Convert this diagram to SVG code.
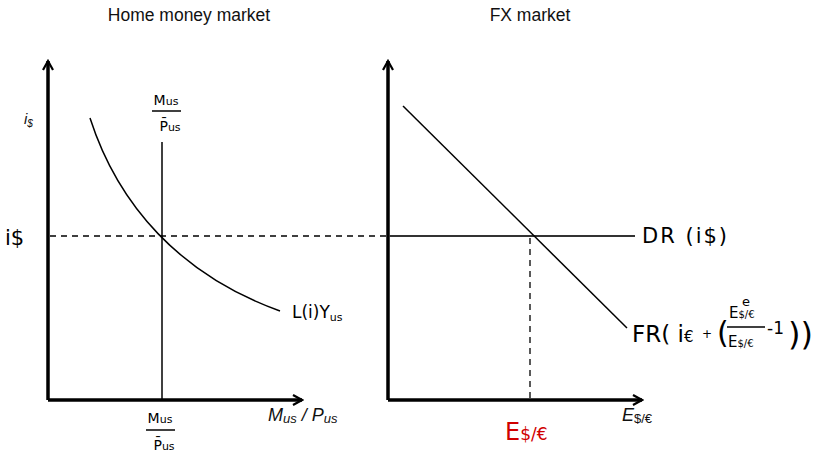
<svg xmlns="http://www.w3.org/2000/svg" width="830" height="455" viewBox="0 0 830 455">
<defs>
<marker id="ah" viewBox="0 0 12 12" refX="10" refY="6" markerWidth="12" markerHeight="12" markerUnits="userSpaceOnUse" orient="auto">
<path d="M1,1 L10,6 L1,11" fill="none" stroke="#000" stroke-width="2.2"/>
</marker>
<style>
.ax{stroke:#000;stroke-width:3.5;fill:none}
.ln{stroke:#000;stroke-width:1.5;fill:none}
.dr{stroke:#333;stroke-width:1.8;fill:none}
.ds{stroke:#000;stroke-width:1.3;stroke-dasharray:6,5;fill:none}
.ttl{font-family:"Liberation Sans",Arial,sans-serif;font-size:17.5px;fill:#111}
.it{font-family:"Liberation Sans",Arial,sans-serif;font-style:italic;fill:#111}
.hw{font-family:"DejaVu Sans",sans-serif;fill:#000}
</style>
</defs>
<rect width="830" height="455" fill="#fff"/>
<g id="titles">
<text class="ttl" x="189" y="21" text-anchor="middle">Home money market</text>
<text class="ttl" x="530" y="21" text-anchor="middle">FX market</text>
</g>
<g id="axes">
<line class="ax" x1="48" y1="400" x2="48" y2="61" marker-end="url(#ah)"/>
<line class="ax" x1="48" y1="400" x2="302" y2="400" marker-end="url(#ah)"/>
<line class="ax" x1="388" y1="400" x2="388" y2="61" marker-end="url(#ah)"/>
<line class="ax" x1="388" y1="400" x2="642" y2="400" marker-end="url(#ah)"/>
</g>
<g id="connectors">
<line class="ds" x1="50" y1="236" x2="386" y2="236"/>
<line class="ds" x1="530" y1="238" x2="530" y2="398"/>
<line class="ln" x1="162" y1="142" x2="162" y2="400"/>
<path class="ln" d="M90,118 C118,205 180,275 280,311"/>
<line class="dr" x1="389" y1="236" x2="635" y2="236"/>
<line class="ln" x1="403" y1="106" x2="627" y2="328"/>
</g>
<g id="label-i-axis">
<text class="it" x="24" y="124" font-size="15">i<tspan font-size="10" dy="3">$</tspan></text>
</g>
<g id="label-i-star">
<text class="hw" x="5" y="245" font-size="21">i$</text>
</g>
<g id="label-MP-top">
<text class="hw" x="166" y="105" font-size="14" text-anchor="middle">M<tspan font-size="11">us</tspan></text>
<line x1="152" y1="111" x2="181" y2="111" stroke="#000" stroke-width="1.5"/>
<text class="hw" x="170" y="131" font-size="14" text-anchor="middle">P̄<tspan font-size="11">us</tspan></text>
</g>
<g id="label-MP-bottom">
<text class="hw" x="160" y="423" font-size="14" text-anchor="middle">M<tspan font-size="11">us</tspan></text>
<line x1="146" y1="430" x2="175" y2="430" stroke="#000" stroke-width="1.5"/>
<text class="hw" x="164" y="450" font-size="14" text-anchor="middle">P̄<tspan font-size="11">us</tspan></text>
</g>
<g id="label-x-left">
<text class="it" x="268" y="421" font-size="18">M<tspan font-size="13" dy="2">us</tspan><tspan dy="-2"> / P</tspan><tspan font-size="13" dy="2">us</tspan></text>
</g>
<g id="label-L">
<text class="hw" x="292" y="318" font-size="17">L(i)Y<tspan font-size="11" dy="3">us</tspan></text>
</g>
<g id="label-DR">
<text class="hw" x="642" y="243" font-size="21" letter-spacing="2">DR (i$)</text>
</g>
<g id="label-FR">
<text class="hw" x="632" y="342" font-size="23">FR( i<tspan font-size="15">€</tspan></text>
<text class="hw" x="702" y="338" font-size="12">+</text>
<text class="hw" x="717" y="343" font-size="30">(</text>
<text class="hw" x="729" y="318" font-size="15">E<tspan font-size="10">$/€</tspan></text>
<text class="hw" x="742" y="306" font-size="13">e</text>
<line x1="727" y1="327" x2="765" y2="327" stroke="#000" stroke-width="1.4"/>
<text class="hw" x="728" y="347" font-size="15">E<tspan font-size="10">$/€</tspan></text>
<text class="hw" x="767" y="334" font-size="17">-1</text>
<text class="hw" x="788" y="345" font-size="32">))</text>
</g>
<g id="label-E-red">
<text class="hw" x="505" y="440" font-size="24" style="fill:#d00000">E<tspan font-size="17">$/€</tspan></text>
</g>
<g id="label-x-right">
<text class="it" x="622" y="421" font-size="18">E<tspan font-size="13" font-style="normal" dy="2">$/€</tspan></text>
</g>
</svg>
